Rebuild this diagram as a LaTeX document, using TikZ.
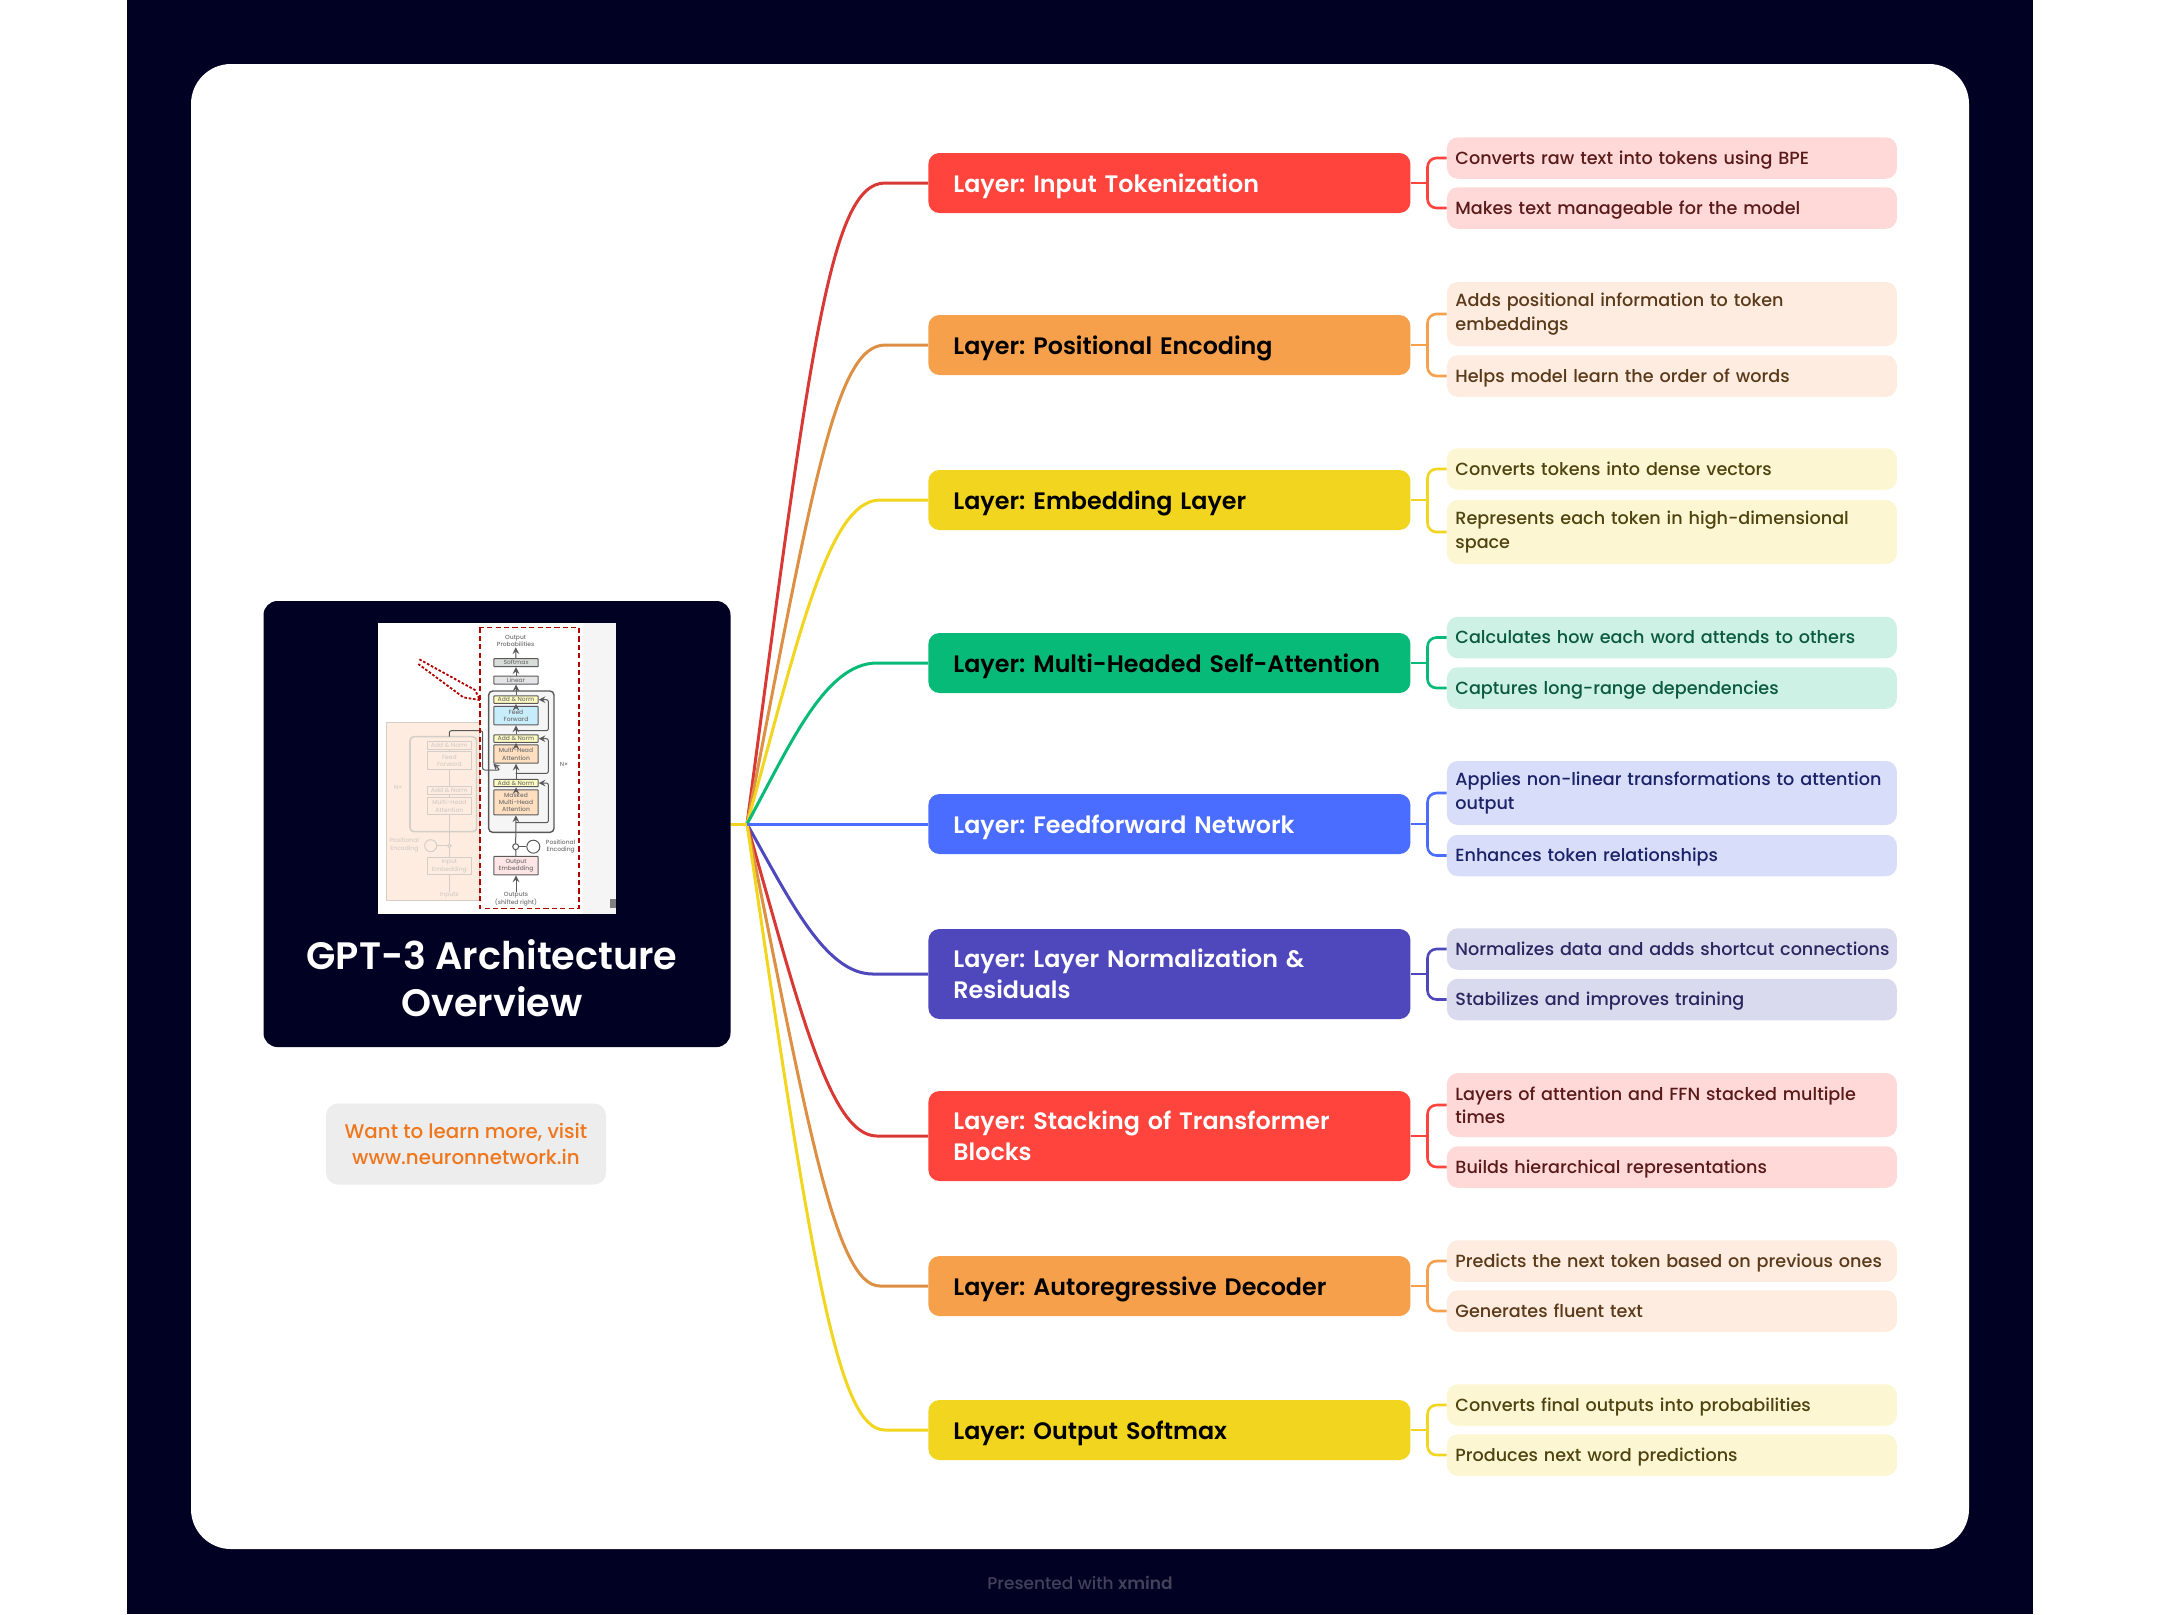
\documentclass[tikz,border=0pt]{standalone}
\usepackage{fontspec}
\setmainfont{Poppins Medium}[BoldFont=Poppins SemiBold]
\frenchspacing
\hyphenpenalty=10000
\usepackage{tikz}
\usetikzlibrary{arrows}
\definecolor{navybg}{HTML}{010123}
\definecolor{redmain}{HTML}{FF433D}
\definecolor{orangemain}{HTML}{F6A04C}
\definecolor{yellowmain}{HTML}{F2D51F}
\definecolor{greenmain}{HTML}{08BA78}
\definecolor{bluemain}{HTML}{4A6CFF}
\definecolor{indigomain}{HTML}{4F48BC}
\definecolor{redpale}{HTML}{FFD9D8}
\definecolor{orangepale}{HTML}{FDECDF}
\definecolor{yellowpale}{HTML}{FCF6D2}
\definecolor{greenpale}{HTML}{CDF1E4}
\definecolor{bluepale}{HTML}{D8DEFA}
\definecolor{indigopale}{HTML}{DADAEE}
\definecolor{reddark}{HTML}{5B1A1A}
\definecolor{orangedark}{HTML}{5A3A1A}
\definecolor{yellowdark}{HTML}{4F4410}
\definecolor{greendark}{HTML}{0B5A3F}
\definecolor{bluedark}{HTML}{1A2268}
\definecolor{indigodark}{HTML}{2A2760}
\definecolor{promotext}{HTML}{F0761C}
\definecolor{faded}{HTML}{D5CEC8}
\tikzstyle{layerbox} = [rectangle, rounded corners=5.5pt, anchor=west, minimum width=241pt, minimum height=30pt, text width=216pt, inner xsep=12.5pt, inner ysep=0pt, align=left, font=\fontsize{11.9}{15.5}\selectfont\bfseries]
\tikzstyle{oneline} = [text height=10.2pt, text depth=1pt]
\tikzstyle{detailbox} = [rectangle, rounded corners=5.5pt, anchor=west, minimum width=225pt, minimum height=20.75pt, text width=216.5pt, inner xsep=4.25pt, inner ysep=0pt, align=left, font=\fontsize{8.8}{11.7}\selectfont]
\tikzstyle{detailone} = [text height=6.8pt, text depth=0.6pt]
\tikzstyle{branch} = [line width=1.5pt]
\tikzstyle{bracket} = [line width=1.3pt, rounded corners=4.5pt]
\tikzstyle{block} = [rectangle, rounded corners=0.3pt, draw=black!65, line width=0.5pt, minimum width=22.2pt, inner sep=0pt, align=center, text=black!55, font=\fontsize{3}{3.7}\selectfont]
\tikzstyle{paleblock} = [rectangle, draw=faded, line width=0.5pt, minimum width=22.2pt, inner sep=0pt, align=center, text=faded, font=\fontsize{3}{3.7}\selectfont]
\tikzstyle{thumbtext} = [inner sep=0pt, align=center, text=black!55, font=\fontsize{3}{3.7}\selectfont]
\begin{document}
\begin{tikzpicture}[x=0.5pt,y=-0.5pt,>=stealth]
	\useasboundingbox (0,0) rectangle (2161,1614);
	\fill[navybg] (127,0) rectangle (2033,1614);
	\fill[white, rounded corners=20pt] (191,64) rectangle (1969,1549);

	% main topic
	\node[rectangle, rounded corners=7pt, fill=navybg, minimum width=233.5pt, minimum height=223pt, inner sep=0pt] (central) at (497,824) {};
	\node[text=white, align=center, inner sep=0pt, font=\fontsize{19.1}{23.6}\selectfont\bfseries] (title) at (492,978) {GPT-3 Architecture\\Overview};
	\node[rectangle, rounded corners=6pt, fill=black!7, minimum width=140pt, minimum height=40.5pt, inner sep=0pt, text=promotext, align=center, font=\fontsize{9.9}{13}\selectfont] (promo) at (466,1144) {Want to learn more, visit\\www.neuronnetwork.in};
	\node[text=navybg!75!white, inner sep=0pt, font=\fontsize{8.5}{10}\selectfont] (footer) at (1080,1583) {Presented with \textbf{xmind}};

	% thumbnail of the decoder
	\begin{scope}[shift={(360,610)},x=0.16667pt,y=-0.16667pt]
		\fill[white] (53,38) rectangle (768,912);
		\fill[black!4] (670,38) rectangle (768,912);
		\fill[black!50] (750,868) rectangle (768,895);
		% left half
		\draw[faded, fill=orangepale, line width=0.5pt] (78,337) rectangle (358,872);
		\draw[faded, line width=0.8pt, rounded corners=2pt] (150,380) rectangle (350,665);
		\node[paleblock, minimum height=3.7pt] (in_norm_b) at (268,406) {Add \& Norm};
		\node[paleblock, minimum height=9.2pt] (in_feed) at (268,452) {Feed\\Forward};
		\node[paleblock, minimum height=3.8pt] (in_norm_a) at (268,541) {Add \& Norm};
		\node[paleblock, minimum height=8.8pt] (in_multi) at (268,588) {Multi-Head\\Attention};
		\node[paleblock, minimum height=8.8pt] (in_embed) at (268,768) {Input\\Embedding};
		\node[thumbtext, text=faded] (in_text) at (268,855) {Inputs};
		\node[thumbtext, text=faded] (in_pos) at (133,705) {Positional\\Encoding};
		\node[thumbtext, text=faded] (in_nx) at (115,533) {N×};
		\node[circle, draw=faded, line width=0.5pt, minimum size=1.8pt, inner sep=0pt] (in_plus) at (268,707) {};
		\node[circle, draw=faded, line width=0.5pt, minimum size=6pt, inner sep=0pt] (in_wave) at (212,707) {};
		\draw[faded, line width=0.5pt] (in_text) -- (in_embed);
		\draw[faded, line width=0.5pt] (in_embed) -- (in_plus);
		\draw[faded, line width=0.5pt] (in_plus) -- (in_multi);
		\draw[faded, line width=0.5pt] (in_wave) -- (in_plus);
		\draw[faded, line width=0.5pt] (in_multi) -- (in_norm_a);
		\draw[faded, line width=0.5pt] (in_norm_a) -- (in_feed);
		\draw[faded, line width=0.5pt] (in_feed) -- (in_norm_b);
		% right half
		\draw[black!65, fill=black!4, line width=0.7pt, rounded corners=2pt] (386,243) rectangle (582,667);
		\node[thumbtext] (out_prob) at (467,93) {Output\\Probabilities};
		\node[block, fill=green!12!black!15, minimum height=4pt] (softmax) at (468,158) {Softmax};
		\node[block, fill=blue!8!black!10, minimum height=4pt] (linear) at (468,210) {Linear};
		\node[block, fill=yellow!25!white, minimum height=3.7pt] (norm_c) at (468,269) {Add \& Norm};
		\node[block, fill=cyan!22!white, minimum height=9.2pt] (feed) at (468,317) {Feed\\Forward};
		\node[block, fill=yellow!25!white, minimum height=3.7pt] (norm_b) at (468,386) {Add \& Norm};
		\node[block, fill=orange!25!white, minimum height=9.2pt] (multi) at (468,432) {Multi-Head\\Attention};
		\node[block, fill=yellow!25!white, minimum height=3.7pt] (norm_a) at (468,519) {Add \& Norm};
		\node[block, fill=orange!25!white, minimum height=12.5pt] (masked) at (468,577) {Masked\\Multi-Head\\Attention};
		\node[block, fill=red!10!white, minimum height=9.2pt] (out_embed) at (468,767) {Output\\Embedding};
		\node[thumbtext] (out_text) at (468,868) {Outputs\\(shifted right)};
		\node[thumbtext] (pos_text) at (602,709) {Positional\\Encoding};
		\node[thumbtext] (out_nx) at (612,463) {N×};
		\node[circle, draw=black!65, line width=0.5pt, minimum size=3pt, inner sep=0pt] (out_plus) at (467,710) {};
		\node[circle, draw=black!65, line width=0.5pt, minimum size=6.5pt, inner sep=0pt] (out_wave) at (520,710) {};
		\draw[->, black!65, line width=0.5pt] (out_text) -- (out_embed);
		\draw[black!65, line width=0.5pt] (out_embed) -- (out_plus);
		\draw[->, black!65, line width=0.5pt] (out_plus) -- (masked);
		\draw[black!65, line width=0.5pt] (out_wave) -- (out_plus);
		\draw[->, black!65, line width=0.5pt] (masked) -- (norm_a);
		\draw[->, black!65, line width=0.5pt] (norm_a) -- (multi);
		\draw[->, black!65, line width=0.5pt] (multi) -- (norm_b);
		\draw[->, black!65, line width=0.5pt] (norm_b) -- (feed);
		\draw[->, black!65, line width=0.5pt] (feed) -- (norm_c);
		\draw[->, black!65, line width=0.5pt] (norm_c) -- (linear);
		\draw[->, black!65, line width=0.5pt] (linear) -- (softmax);
		\draw[->, black!65, line width=0.5pt] (softmax) -- (out_prob);
		\draw[->, black!65, line width=0.5pt, rounded corners=1pt] (467,362) -- (565,362) |- (norm_c.east);
		\draw[->, black!65, line width=0.5pt, rounded corners=1pt] (467,490) -- (565,490) |- (norm_b.east);
		\draw[->, black!65, line width=0.5pt, rounded corners=1pt] (467,638) -- (565,638) |- (norm_a.east);
		\draw[->, black!65, line width=0.5pt, rounded corners=1pt] (268,380) -- (268,362) -| (368,480) -- (420,480) -- (multi.south west);
		% red frame and dashed arrow
		\draw[red!70!black, line width=0.6pt, dash pattern=on 2.6pt off 1.6pt] (360,52) rectangle (657,895);
		\draw[red!70!black, line width=0.9pt, dash pattern=on 1.3pt off 0.9pt] (178,148) -- (345,240) -- (360,270) -- (310,262) -- (175,162);
	\end{scope}

	% subtopics
	\node[layerbox, oneline, fill=redmain, text=white] (input) at (928,183) {Layer: Input Tokenization};
	\node[layerbox, oneline, fill=orangemain, text=black] (position) at (928,345) {Layer: Positional Encoding};
	\node[layerbox, oneline, fill=yellowmain, text=black] (embedding) at (928,500) {Layer: Embedding Layer};
	\node[layerbox, oneline, fill=greenmain, text=black] (attention) at (928,663) {Layer: Multi-Headed Self-Attention};
	\node[layerbox, oneline, fill=bluemain, text=white] (feedforward) at (928,824) {Layer: Feedforward Network};
	\node[layerbox, fill=indigomain, text=white, minimum height=45pt] (normalization) at (928,974) {Layer: Layer Normalization \&\\Residuals};
	\node[layerbox, fill=redmain, text=white, minimum height=45pt] (stacking) at (928,1136) {Layer: Stacking of Transformer\\Blocks};
	\node[layerbox, oneline, fill=orangemain, text=black] (decoder) at (928,1286) {Layer: Autoregressive Decoder};
	\node[layerbox, oneline, fill=yellowmain, text=black] (softmax_out) at (928,1430) {Layer: Output Softmax};

	% details
	\node[detailbox, detailone, fill=redpale, text=reddark] (input_a) at (1446.5,158) {Converts raw text into tokens using BPE};
	\node[detailbox, detailone, fill=redpale, text=reddark] (input_b) at (1446.5,208) {Makes text manageable for the model};
	\node[detailbox, fill=orangepale, text=orangedark, minimum height=32pt] (position_a) at (1446.5,314) {Adds positional information to token\\embeddings};
	\node[detailbox, detailone, fill=orangepale, text=orangedark] (position_b) at (1446.5,376) {Helps model learn the order of words};
	\node[detailbox, detailone, fill=yellowpale, text=yellowdark] (embedding_a) at (1446.5,469) {Converts tokens into dense vectors};
	\node[detailbox, fill=yellowpale, text=yellowdark, minimum height=32pt] (embedding_b) at (1446.5,532) {Represents each token in high-dimensional\\space};
	\node[detailbox, detailone, fill=greenpale, text=greendark] (attention_a) at (1446.5,637.5) {Calculates how each word attends to others};
	\node[detailbox, detailone, fill=greenpale, text=greendark] (attention_b) at (1446.5,688) {Captures long-range dependencies};
	\node[detailbox, fill=bluepale, text=bluedark, minimum height=32pt] (feedforward_a) at (1446.5,793) {Applies non-linear transformations to attention\\output};
	\node[detailbox, detailone, fill=bluepale, text=bluedark] (feedforward_b) at (1446.5,855.5) {Enhances token relationships};
	\node[detailbox, detailone, fill=indigopale, text=indigodark] (normalization_a) at (1446.5,949) {\mbox{Normalizes data and adds shortcut connections}};
	\node[detailbox, detailone, fill=indigopale, text=indigodark] (normalization_b) at (1446.5,999.5) {Stabilizes and improves training};
	\node[detailbox, fill=redpale, text=reddark, minimum height=32pt] (stacking_a) at (1446.5,1105) {Layers of attention and FFN stacked multiple\\times};
	\node[detailbox, detailone, fill=redpale, text=reddark] (stacking_b) at (1446.5,1167) {Builds hierarchical representations};
	\node[detailbox, detailone, fill=orangepale, text=orangedark] (decoder_a) at (1446.5,1261) {\mbox{Predicts the next token based on previous ones}};
	\node[detailbox, detailone, fill=orangepale, text=orangedark] (decoder_b) at (1446.5,1311) {Generates fluent text};
	\node[detailbox, detailone, fill=yellowpale, text=yellowdark] (softmax_a) at (1446.5,1405) {Converts final outputs into probabilities};
	\node[detailbox, detailone, fill=yellowpale, text=yellowdark] (softmax_b) at (1446.5,1455) {Produces next word predictions};

	% branches from the main topic
	\coordinate (hub) at (747,824);
	\draw[branch, redmain!85!black] (hub) .. controls (810,350) and (830,183) .. (885,183) -- (input.west);
	\draw[branch, orangemain!90!black] (hub) .. controls (812,490) and (835,345) .. (885,345) -- (position.west);
	\draw[branch, yellowmain] (hub) .. controls (798,640) and (828,500) .. (880,500) -- (embedding.west);
	\draw[branch, greenmain] (hub) .. controls (790,745) and (825,663) .. (877,663) -- (attention.west);
	\draw[branch, indigomain] (hub) .. controls (790,900) and (825,974) .. (873,974) -- (normalization.west);
	\draw[branch, redmain!85!black] (hub) .. controls (800,1010) and (830,1136) .. (877,1136) -- (stacking.west);
	\draw[branch, orangemain!90!black] (hub) .. controls (807,1120) and (835,1286) .. (880,1286) -- (decoder.west);
	\draw[branch, yellowmain] (hub) .. controls (812,1270) and (838,1430) .. (885,1430) -- (softmax_out.west);
	\draw[branch, bluemain] (hub) -- (feedforward.west);
	\draw[branch, yellowmain] (central.east) -- (hub);

	% brackets to the details
	\draw[bracket, redmain] (input.east) -- ++(18,0);
	\draw[bracket, redmain] (input_a.west) -- ++(-19,0) |- (input_b.west);
	\draw[bracket, orangemain] (position.east) -- ++(18,0);
	\draw[bracket, orangemain] (position_a.west) -- ++(-19,0) |- (position_b.west);
	\draw[bracket, yellowmain] (embedding.east) -- ++(18,0);
	\draw[bracket, yellowmain] (embedding_a.west) -- ++(-19,0) |- (embedding_b.west);
	\draw[bracket, greenmain] (attention.east) -- ++(18,0);
	\draw[bracket, greenmain] (attention_a.west) -- ++(-19,0) |- (attention_b.west);
	\draw[bracket, bluemain] (feedforward.east) -- ++(18,0);
	\draw[bracket, bluemain] (feedforward_a.west) -- ++(-19,0) |- (feedforward_b.west);
	\draw[bracket, indigomain] (normalization.east) -- ++(18,0);
	\draw[bracket, indigomain] (normalization_a.west) -- ++(-19,0) |- (normalization_b.west);
	\draw[bracket, redmain] (stacking.east) -- ++(18,0);
	\draw[bracket, redmain] (stacking_a.west) -- ++(-19,0) |- (stacking_b.west);
	\draw[bracket, orangemain] (decoder.east) -- ++(18,0);
	\draw[bracket, orangemain] (decoder_a.west) -- ++(-19,0) |- (decoder_b.west);
	\draw[bracket, yellowmain] (softmax_out.east) -- ++(18,0);
	\draw[bracket, yellowmain] (softmax_a.west) -- ++(-19,0) |- (softmax_b.west);
\end{tikzpicture}
\end{document}
